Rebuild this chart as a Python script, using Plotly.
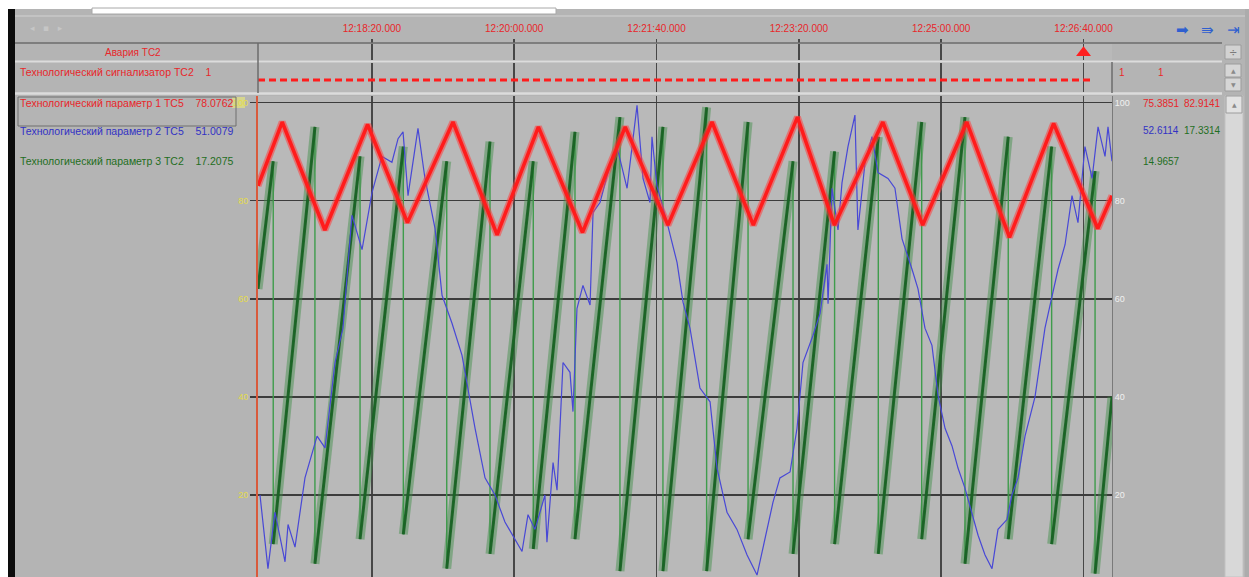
import pandas as pd
import plotly.graph_objects as go

W, H = 1249, 577

# ---------------- data (seconds after 12:17:00) ----------------
base_time = "2024-03-15 12:17:00"
window_s = 600

red_t = [0, 17, 47, 77, 105, 137, 168, 197, 228, 258, 288, 319, 348, 379, 405, 439,
         467, 498, 528, 559, 590, 600]
red_v = [83, 96, 74, 95.5, 75.5, 96, 73, 95, 73.5, 95, 75, 96, 75, 97, 75, 96,
         75, 96, 72.5, 95.7, 74.3, 81]

blue_t = [1.4, 7.0, 11.9, 19.0, 21.1, 26.0, 33.0, 41.5, 47.1, 54.1,
          59.7, 66.0, 73.1, 80.1, 87.1, 94.1, 98.4, 101.9, 105.4, 112.4,
          117.3, 124.4, 129.3, 136.3, 143.3, 152.5, 159.5, 166.5, 173.5, 180.6,
          185.5, 189.7, 194.6, 201.6, 203.0, 207.3, 210.1, 214.3, 219.2, 221.3,
          224.1, 228.3, 233.3, 235.4, 240.3, 245.2, 252.2, 259.3, 266.3, 270.5,
          275.4, 276.8, 280.3, 287.4, 294.4, 298.6, 303.5, 310.5, 317.6, 322.5,
          329.5, 336.5, 343.6, 350.6, 357.6, 361.8, 366.7, 373.8, 378.7, 382.9,
          389.9, 394.9, 399.8, 400.5, 403.3, 407.5, 410.3, 414.5, 419.4, 421.5,
          426.5, 431.4, 435.6, 442.6, 447.5, 452.5, 459.5, 463.7, 468.6, 473.5,
          477.8, 482.7, 487.6, 491.8, 496.7, 501.6, 505.9, 510.8, 515.7, 519.9,
          526.2, 529.7, 534.0, 538.9, 545.9, 552.9, 557.8, 562.1, 567.0, 571.9,
          576.1, 581.0, 586.0, 590.2, 595.1, 597.2, 600.0]
blue_v = [20, 5, 16.5, 6.4, 14, 9.4, 23.5, 32, 29.6, 47,
          54, 77, 70, 81.6, 89, 87.8, 92.6, 94, 81, 94.7,
          84.5, 74.3, 60.7, 55, 48.5, 33.6, 23.5, 20, 14.5, 11,
          8.5, 16, 13, 20, 10.4, 26.6, 21, 47, 45, 37,
          58, 62.7, 58.7, 77.6, 79.6, 85, 91, 82.5, 99.4, 84.5,
          79.6, 93, 83, 75.5, 67.4, 59.3, 54, 41.8, 39, 25.5,
          16.5, 13, 7.8, 3.7, 13, 18.5, 23.5, 24.7, 33.6, 47,
          52.5, 57, 67, 59, 82.5, 74, 83.6, 91, 97.4, 74,
          87.8, 93, 85.7, 84.5, 82.5, 72.2, 66, 62, 54, 50.5,
          40.3, 33.6, 30, 25.5, 21.4, 16.5, 11.8, 7.8, 5, 13,
          15, 20, 23.5, 32, 40, 54, 60.7, 66, 71, 81,
          75.5, 91, 84.5, 95, 89, 95, 88]

green_start = 62
green_end = 40
green_drop_t = [10.7, 40.0, 71.7, 102.1, 132.6, 163.0, 193.4, 222.7, 254.3, 284.5,
                315.2, 344.3, 375.9, 405.1, 435.8, 466.3, 496.7, 527.1, 557.6, 588.1]
green_high = [88, 95, 89, 91, 88, 92, 88, 94, 97, 95, 99, 96, 88, 90, 93, 96, 97, 93, 91, 86]
green_low = [10, 6, 11, 12, 5, 8, 9, 11, 4.5, 4.5, 4.5, 11, 8, 10, 8, 11, 6, 11, 10, 4]

alarm_t = [0, 584.6]
alarm_v = [1, 1]
cursor_t = [580]

y_ticks = [20, 40, 60, 80, 100]

left_labels = ["Технологический параметр 1 ТС5&nbsp;&nbsp;&nbsp;&nbsp;78.0762",
               "Технологический параметр 2 ТС5&nbsp;&nbsp;&nbsp;&nbsp;51.0079",
               "Технологический параметр 3 ТС2&nbsp;&nbsp;&nbsp;&nbsp;17.2075"]
signal_label = "Технологический сигнализатор ТС2&nbsp;&nbsp;&nbsp;&nbsp;1"
right_vals = [("75.3851", "82.9141"), ("52.6114", "17.3314"), ("14.9657", "")]

# ---------------- helpers ----------------
t0 = pd.Timestamp(base_time)


def tt(seconds):
    return [None if s is None else t0 + pd.Timedelta(seconds=s) for s in seconds]


def px(x):
    return x / W


def py(y):
    return 1 - y / H


RED = "#ff1c1c"
BLUE = "#4848d6"
GREEN_D = "#175f22"
GREEN_L = "#3f9c4c"
TXT_RED = "#e8262a"
TXT_BLUE = "#3232c4"
TXT_GREEN = "#1f6e22"
GRID = "#474747"
FONT = "Liberation Sans"

# green vertices (full path with vertical drops) and ramp segments
g_t, g_v = [0], [green_start]
for d, hi, lo in zip(green_drop_t, green_high, green_low):
    g_t += [d, d]
    g_v += [hi, lo]
g_t.append(window_s)
g_v.append(green_end)

band_t, band_v = [], []
for i in range(0, len(g_t), 2):
    band_t += [g_t[i], g_t[i + 1], None]
    band_v += [g_v[i], g_v[i + 1], None]

fig = go.Figure()

fig.add_trace(go.Scatter(x=tt(g_t), y=g_v, mode="lines",
                         line=dict(color=GREEN_L, width=1.4), xaxis="x", yaxis="y"))
fig.add_trace(go.Scatter(x=tt(band_t), y=band_v, mode="lines", connectgaps=False,
                         line=dict(color="#3d8f46", width=9), opacity=0.45,
                         xaxis="x", yaxis="y"))
fig.add_trace(go.Scatter(x=tt(band_t), y=band_v, mode="lines", connectgaps=False,
                         line=dict(color=GREEN_D, width=3), opacity=0.9,
                         xaxis="x", yaxis="y"))
fig.add_trace(go.Scatter(x=tt(blue_t), y=blue_v, mode="lines",
                         line=dict(color=BLUE, width=1.2), xaxis="x", yaxis="y"))
fig.add_trace(go.Scatter(x=tt(red_t), y=red_v, mode="lines",
                         line=dict(color="#ff4040", width=7), opacity=0.55,
                         xaxis="x", yaxis="y2"))
fig.add_trace(go.Scatter(x=tt(red_t), y=red_v, mode="lines",
                         line=dict(color=RED, width=3.5), xaxis="x", yaxis="y2"))
fig.add_trace(go.Scatter(x=tt(alarm_t), y=alarm_v, mode="lines",
                         line=dict(color=RED, width=3, dash="7px,4px"),
                         xaxis="x3", yaxis="y4"))
fig.add_trace(go.Scatter(x=tt(cursor_t), y=[0.45], mode="markers",
                         marker=dict(symbol="triangle-up", size=13, color="#ff2020"),
                         xaxis="x2", yaxis="y3"))

x_rng = [t0, t0 + pd.Timedelta(seconds=window_s)]
x_dom = [px(258), px(1112)]
tick0 = t0 + pd.Timedelta(seconds=80)
common_x = dict(type="date", range=x_rng, domain=x_dom, tick0=tick0, dtick=100000,
                showgrid=True, gridcolor=GRID, gridwidth=1.6, zeroline=False,
                showline=False, fixedrange=True)

y_range = [3.3, 101.3]

fig.update_layout(
    width=W, height=H,
    margin=dict(l=0, r=0, t=0, b=0),
    paper_bgcolor="#b4b4b4",
    plot_bgcolor="#b9b9b9",
    showlegend=False,
    font=dict(family=FONT, size=10),
    xaxis=dict(**common_x, anchor="y", showticklabels=False, ticks=""),
    yaxis=dict(domain=[0, py(96)], range=y_range, tickvals=y_ticks,
               showgrid=True, gridcolor="#3c3c3c", gridwidth=1.6, zeroline=False,
               ticks="outside", ticklen=6, tickcolor="#3c3c3c", tickwidth=1.6,
               tickfont=dict(color="#e4dc4a", size=9),
               showline=True, linecolor="#d85a3c", linewidth=2, fixedrange=True),
    yaxis2=dict(overlaying="y", side="right", range=y_range, tickvals=y_ticks,
                showgrid=False, zeroline=False, ticks="", anchor="x",
                tickfont=dict(color="#f0f0f0", size=9),
                showline=True, linecolor="#7a7a7a", linewidth=1, fixedrange=True),
    xaxis2=dict(**common_x, anchor="y3", side="top", showticklabels=True,
                tickformat="%H:%M:%S.%L", tickfont=dict(color=TXT_RED, size=10),
                ticks="outside", ticklen=4, tickcolor=GRID, tickwidth=1.6,
                ticklabelstandoff=3),
    yaxis3=dict(domain=[py(60), py(44)], range=[0, 1], showgrid=False, zeroline=False,
                showticklabels=False, anchor="x2", fixedrange=True),
    xaxis3=dict(**common_x, anchor="y4", showticklabels=False, ticks=""),
    yaxis4=dict(domain=[py(92), py(63)], range=[0, 2.4], showgrid=False, zeroline=False,
                showticklabels=False, anchor="x3", fixedrange=True),
)

shapes = []


def rect(x0, y0, x1, y1, fill, line=None, lw=1, layer="above"):
    shapes.append(dict(type="rect", xref="paper", yref="paper",
                       x0=px(x0), x1=px(x1), y0=py(y1), y1=py(y0),
                       fillcolor=fill, line=dict(color=line or fill, width=lw if line else 0),
                       layer=layer))


def hline(x0, x1, y, color, w):
    shapes.append(dict(type="line", xref="paper", yref="paper",
                       x0=px(x0), x1=px(x1), y0=py(y), y1=py(y),
                       line=dict(color=color, width=w)))


def vline(x, y0, y1, color, w):
    shapes.append(dict(type="line", xref="paper", yref="paper",
                       x0=px(x), x1=px(x), y0=py(y0), y1=py(y1),
                       line=dict(color=color, width=w)))


# window chrome
rect(0, 0, W, 9, "#ffffff")
rect(0, 0, 8, H, "#ffffff")
rect(8, 9, 15, H, "#0c0c0c")
rect(92, 8, 556, 14, "#ffffff", "#a8a8a8", 1)
hline(15, W, 16, "#c9c9c9", 1.5)
# row separators
hline(15, 1222, 43, "#6c6c6c", 1.5)
hline(15, 1222, 61.5, "#dcdcdc", 2)
hline(15, 1222, 93.5, "#dcdcdc", 2.5)
vline(258, 43, 93, "#6c6c6c", 1.5)
vline(1112, 62, 93, "#6c6c6c", 1.5)
# left legend frame and highlighted label
rect(18, 97, 236, 126, "rgba(0,0,0,0)", "#6e6e6e", 1)
rect(232, 97, 245, 108, "#d6d68e", layer="below")
# scroll controls
rect(1225, 45, 1241, 59, "#d2d2d2", "#9c9c9c", 1)
rect(1225, 64, 1241, 77, "#d6d6d6", "#9c9c9c", 1)
rect(1225, 78, 1241, 91, "#d6d6d6", "#9c9c9c", 1)
rect(1225, 96, 1243, H, "#d8d8d8", "#c2c2c2", 1)
rect(1226, 96, 1242, 113, "#e2e2e2", "#9c9c9c", 1)
rect(1245, 9, W, H, "#acacac")

fig.update_layout(shapes=shapes)

ann = []


def text(x, y, s, color, size=10, anchor="left", fam=FONT):
    ann.append(dict(xref="paper", yref="paper", x=px(x), y=py(y), text=s,
                    showarrow=False, xanchor=anchor, yanchor="middle",
                    font=dict(color=color, size=size, family=fam)))


text(133, 52, "Авария ТС2", TXT_RED, anchor="center")
text(18, 72, signal_label, TXT_RED, size=10.5)
text(1117, 72, "1", TXT_RED)
text(1156, 72, "1", TXT_RED)
label_colors = [TXT_RED, TXT_BLUE, TXT_GREEN]
row_y = [103, 131, 161]
for lab, c, y in zip(left_labels, label_colors, row_y):
    text(18, y, lab, c, size=10.5)
text(1141, 103, right_vals[0][0], TXT_RED)
text(1182, 103, right_vals[0][1], TXT_RED)
text(1141, 131, right_vals[1][0], TXT_BLUE)
text(1182, 131, right_vals[1][1], TXT_GREEN)
text(1141, 161, right_vals[2][0], TXT_GREEN)
# toolbar icons
text(28, 28, "◂   ▪   ▸", "#c6c6c6", size=9, fam="DejaVu Sans")
text(1182, 30, "➡", "#2f5fd0", size=15, anchor="center", fam="DejaVu Sans")
text(1207, 30, "⇛", "#2f5fd0", size=15, anchor="center", fam="DejaVu Sans")
text(1233, 30, "⇥", "#2f5fd0", size=15, anchor="center", fam="DejaVu Sans")
text(1233, 52, "÷", "#7a7a7a", size=10, anchor="center", fam="DejaVu Sans")
text(1233, 70.5, "▲", "#8a8a8a", size=6, anchor="center", fam="DejaVu Sans")
text(1233, 84.5, "▼", "#8a8a8a", size=6, anchor="center", fam="DejaVu Sans")
text(1234, 104.5, "▲", "#8a8a8a", size=6, anchor="center", fam="DejaVu Sans")

fig.update_layout(annotations=ann)

fig.write_html("out.html",
               config={"displayModeBar": False, "staticPlot": True},
               post_script="document.body.style.margin='0';"
                           "document.body.style.overflow='hidden';")
